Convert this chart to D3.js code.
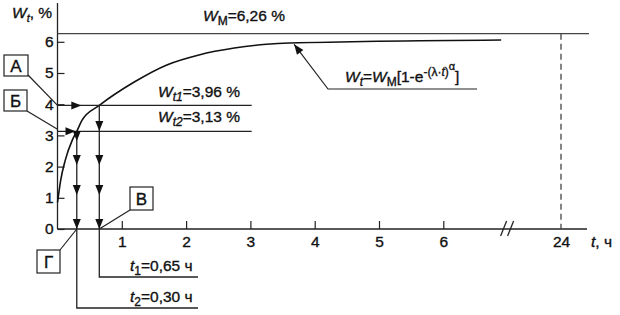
<html>
  <head>
    <script src="https://d3js.org/d3.v7.min.js"></script>
    <style>
      body { margin: 0; background: #fff; }
      text { font-family: "Liberation Sans", Arial, sans-serif; font-size: 15.5px; fill: #111; stroke: #111; stroke-width: 0.35px; }
    </style>
  </head>
  <body>
    <svg id="vis" width="620" height="315"></svg>
  </body>
  <script>
    // values
    var curveT = [0, 0.05, 0.12, 0.23, 0.30, 0.38, 0.65, 1.2, 1.7, 2.2, 2.75, 3.25, 3.6, 6.9]
    var curveW = [0.85, 1.57, 2.2, 2.85, 3.13, 3.48, 3.96, 4.72, 5.26, 5.58, 5.8, 5.92, 5.96, 6.06]
    var yTicks = [0, 1, 2, 3, 4, 5, 6]
    var xTicks = [1, 2, 3, 4, 5, 6, 24]
    var WM = 6.26, Wt1 = 3.96, Wt2 = 3.13
    var t1 = 0.65, t2 = 0.30, tDay = 24, tBreak = 7, tLineEnd = 3.02
    var t1Arrows = [3.14, 2.05, 1.09, 0]
    var t2Arrows = [2.82, 2.05, 1.09, 0]
    var boxLabels = ["А", "Б", "В", "Г"]

    var svg = d3.select("#vis")
    var ink = "#222"

    // scales (x axis is broken between 7 and 24 h)
    var x = d3.scaleLinear().domain([0, tBreak, tDay]).range([57.5, 507.6, 561])
    var y = d3.scaleLinear().domain([0, 6]).range([229, 41.8])
    var x0 = x(0), yb = y(0)

    // axes
    svg.append("line").attr("x1", x0).attr("x2", x0).attr("y1", 3).attr("y2", yb)
      .attr("stroke", ink).attr("stroke-width", 1.3)
    svg.append("line").attr("x1", x0).attr("x2", 587).attr("y1", yb).attr("y2", yb)
      .attr("stroke", ink).attr("stroke-width", 1.3)

    var yAx = svg.append("g").attr("transform", "translate(" + x0 + ",0)")
      .call(d3.axisLeft(y).tickValues(yTicks).tickFormat(d3.format("d")).tickSize(-7).tickPadding(4))
    var xAx = svg.append("g").attr("transform", "translate(0," + yb + ")")
      .call(d3.axisBottom(x).tickValues(xTicks).tickFormat(d3.format("d")).tickSize(-8).tickPadding(7))
    ;[yAx, xAx].forEach(function(a) {
      a.select(".domain").remove()
      a.selectAll("line").attr("stroke", ink).attr("stroke-width", 1.2)
      a.selectAll("text").attr("font-family", null).style("font-size", "15.5px").style("fill", "#111")
    })
    xAx.selectAll(".tick").filter(function(d) { return d === tDay }).select("line").remove()

    // break marks
    var xb = x(tBreak)
    ;[-4, 3].forEach(function(o) {
      svg.append("line").attr("x1", xb + o - 3).attr("y1", yb + 7).attr("x2", xb + o + 3).attr("y2", yb - 8)
        .attr("stroke", ink).attr("stroke-width", 1.3)
    })

    // WM level and 24 h dashed line
    svg.append("line").attr("x1", x0).attr("x2", 589).attr("y1", y(WM)).attr("y2", y(WM))
      .attr("stroke", "#444").attr("stroke-width", 1.3)
    svg.append("line").attr("x1", x(tDay)).attr("x2", x(tDay)).attr("y1", y(WM)).attr("y2", yb)
      .attr("stroke", "#444").attr("stroke-width", 1.3).attr("stroke-dasharray", "6,4")

    // curve
    var pts = curveT.map(function(t, i) { return [t, curveW[i]] })
    var line = d3.line().x(function(d) { return x(d[0]) }).y(function(d) { return y(d[1]) }).curve(d3.curveMonotoneX)
    svg.append("path").attr("d", line(pts)).attr("fill", "none").attr("stroke", "#111").attr("stroke-width", 1.6)

    // level lines Wt1, Wt2
    ;[Wt1, Wt2].forEach(function(w) {
      svg.append("line").attr("x1", x0).attr("x2", x(tLineEnd)).attr("y1", y(w)).attr("y2", y(w))
        .attr("stroke", ink).attr("stroke-width", 1.3)
    })

    // verticals t1, t2 with leaders to their labels
    function vert(t, w, bottom) {
      svg.append("path")
        .attr("d", "M" + x(t) + "," + y(w) + "V" + bottom + "H198")
        .attr("fill", "none").attr("stroke", ink).attr("stroke-width", 1.3)
    }
    vert(t1, Wt1, 277)
    vert(t2, Wt2, 308)

    // arrowheads
    function arrow(tx, ty, ang) {
      svg.append("path").attr("d", "M0,0L-10,-4L-10,4Z")
        .attr("transform", "translate(" + tx + "," + ty + ") rotate(" + ang + ")")
        .attr("fill", "#111")
    }
    t1Arrows.forEach(function(w) { arrow(x(t1), y(w), 90) })
    t2Arrows.forEach(function(w) { arrow(x(t2), y(w), 90) })
    arrow(x(0.37), y(Wt1), 0)
    arrow(x(0.28), y(Wt2), 0)

    // boxes with leaders
    var boxes = [
      {x: 4, y: 55, w: 24, h: 21, lx: 28, ly: 75, ex: x0, ey: y(Wt1)},
      {x: 4, y: 90, w: 23, h: 21, lx: 27, ly: 111, ex: x0, ey: y(Wt2) - 2},
      {x: 130, y: 187, w: 23, h: 23, lx: 130, ly: 210, ex: x(t1), ey: yb},
      {x: 37, y: 250, w: 23, h: 23, lx: 60, ly: 250, ex: x(t2), ey: yb}
    ]
    boxes.forEach(function(b, i) {
      svg.append("line").attr("x1", b.lx).attr("y1", b.ly).attr("x2", b.ex).attr("y2", b.ey)
        .attr("stroke", ink).attr("stroke-width", 1.2)
      svg.append("rect").attr("x", b.x).attr("y", b.y).attr("width", b.w).attr("height", b.h)
        .attr("fill", "#fff").attr("stroke", ink).attr("stroke-width", 1.2)
      svg.append("text").attr("x", b.x + b.w / 2).attr("y", b.y + b.h / 2 + 6)
        .attr("text-anchor", "middle").style("font-size", "17px").text(boxLabels[i])
    })

    // formula leader
    var tip = [x(3.68), y(5.95) + 1]
    svg.append("path").attr("d", "M" + tip[0] + "," + tip[1] + "L328,89H477")
      .attr("fill", "none").attr("stroke", ink).attr("stroke-width", 1.2)
    arrow(tip[0], tip[1], Math.atan2(tip[1] - 89, tip[0] - 328) * 180 / Math.PI)

    // rich text helper
    function rich(px, py, parts, anchor) {
      var t = svg.append("text").attr("x", px).attr("y", py).attr("text-anchor", anchor || "start")
      var cur = 0
      parts.forEach(function(p) {
        var s = p.s || 0
        t.append("tspan").attr("dy", s - cur)
          .attr("font-style", p.i ? "italic" : null)
          .attr("font-size", p.f || null)
          .text(p.t)
        cur = s
      })
    }
    rich(12, 18, [{t: "W", i: 1}, {t: "t", i: 1, s: 4, f: 11}, {t: ", %"}])
    rich(203, 21, [{t: "W", i: 1}, {t: "М", s: 4, f: 12}, {t: "=6,26 %"}])
    rich(158, 97, [{t: "W", i: 1}, {t: "t1", i: 1, s: 4, f: 12}, {t: "=3,96 %"}])
    rich(158, 122, [{t: "W", i: 1}, {t: "t2", i: 1, s: 4, f: 12}, {t: "=3,13 %"}])
    rich(345, 82, [{t: "W", i: 1}, {t: "t", i: 1, s: 4, f: 12}, {t: "="}, {t: "W", i: 1},
      {t: "М", s: 4, f: 12}, {t: "[1-e"}, {t: "-(λ·", s: -6, f: 12}, {t: "t", i: 1, s: -6, f: 12},
      {t: ")", s: -6, f: 12}, {t: "α", s: -12, f: 11}, {t: "]"}])
    rich(130, 271, [{t: "t", i: 1}, {t: "1", s: 4, f: 12}, {t: "=0,65 ч"}])
    rich(130, 302, [{t: "t", i: 1}, {t: "2", s: 4, f: 12}, {t: "=0,30 ч"}])
    rich(591, 247, [{t: "t", i: 1}, {t: ", ч"}])
  </script>
</html>
